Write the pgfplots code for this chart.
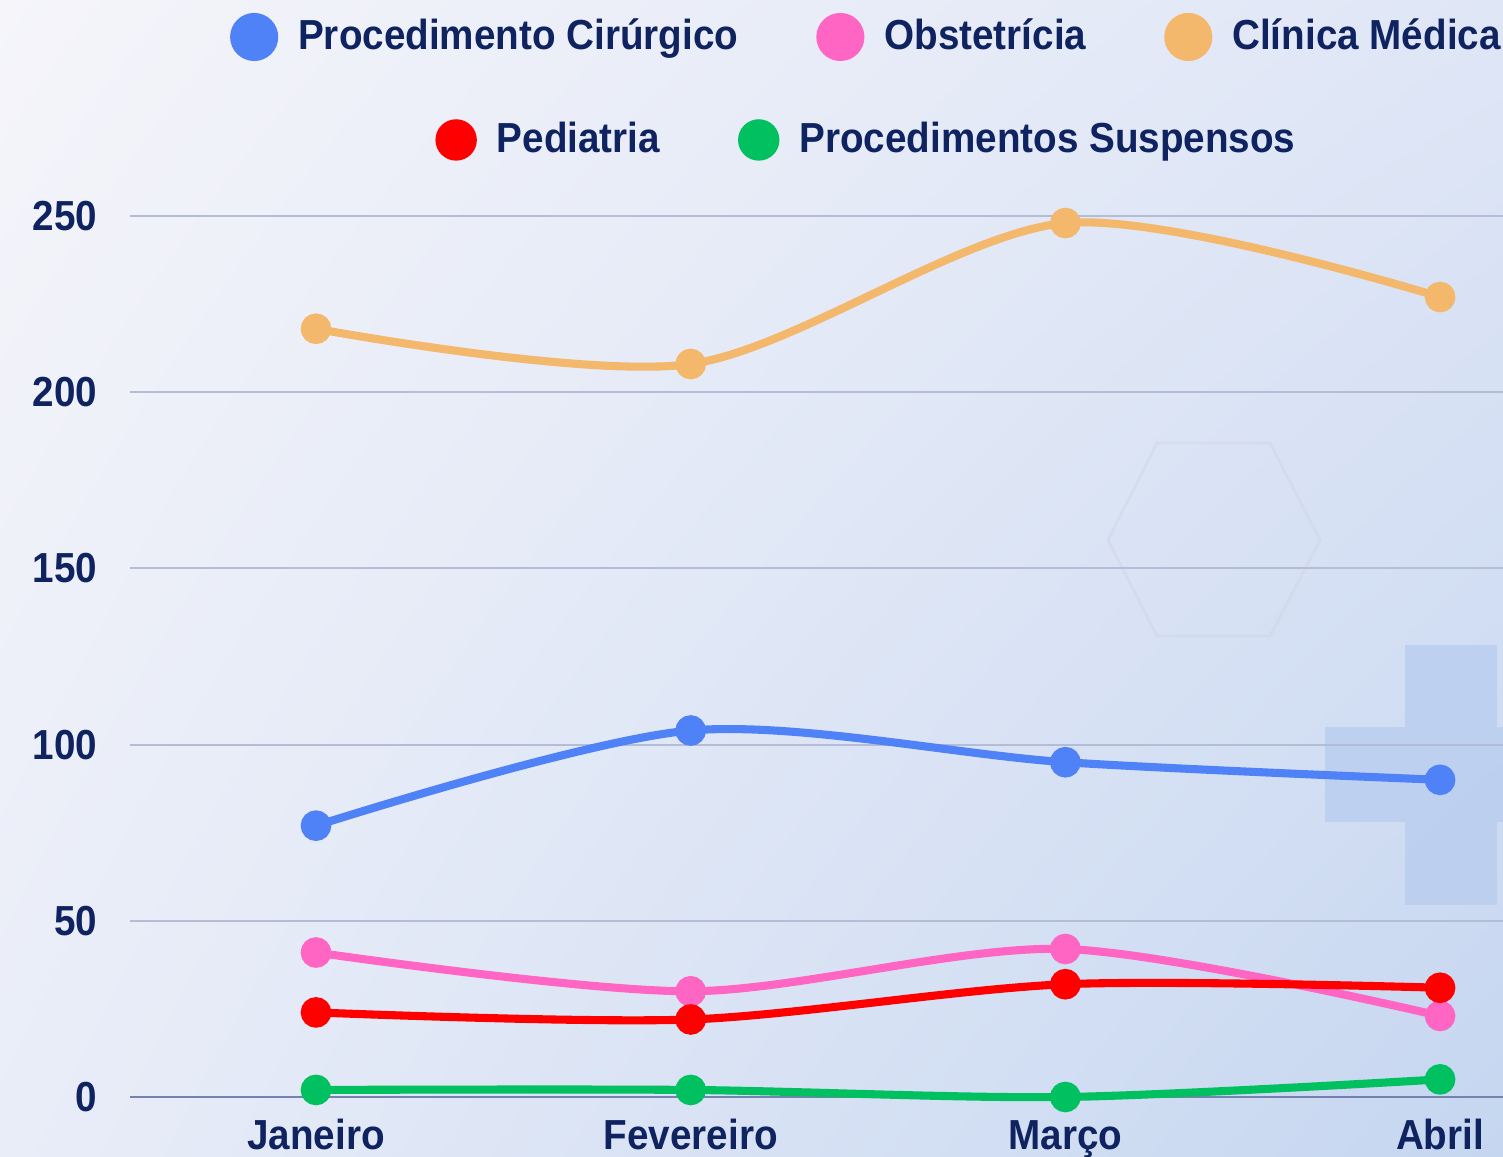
\documentclass[border=0pt]{standalone}
\usepackage{fontspec}
\setmainfont{Liberation Sans}[FakeStretch=0.92]
\usepackage{pgfplots}
\pgfplotsset{compat=1.18}
\usetikzlibrary{shadings}

\definecolor{navy}{HTML}{0F2361}
\definecolor{cirblue}{HTML}{4F82F6}
\definecolor{obspink}{HTML}{FF66C4}
\definecolor{clinorange}{HTML}{F3B86C}
\definecolor{pedred}{HTML}{FF0000}
\definecolor{susgreen}{HTML}{00C060}
\definecolor{gridc}{HTML}{B4BCD8}
\definecolor{zeroc}{HTML}{7482B0}
\definecolor{bgul}{HTML}{F5F5FA}
\definecolor{bgur}{HTML}{DFE6F6}
\definecolor{bgll}{HTML}{E9EDF8}
\definecolor{bglr}{HTML}{C5D6F0}
\definecolor{crossc}{HTML}{B2C8EE}

\newcommand{\chartfont}{\fontsize{11.95pt}{14pt}\selectfont\bfseries}

\pgfplotsset{
  base/.style={
    scale only axis,
    at={(1.30cm,0.60cm)}, anchor=south west,
    width=13.85cm, height=8.81cm,
    xmin=-0.4964, xmax=3.2, ymin=0, ymax=250,
  },
  lgd/.style={
    legend columns=-1,
    legend image code/.code={\fill[##1] (0.2cm,0cm) circle (0.2cm);},
    legend style={draw=none, fill=none, anchor=center,
      font=\chartfont, text=navy, nodes={inner sep=0pt},
      /tikz/every odd column/.append style={column sep=0.2cm},
      /tikz/every even column/.append style={column sep=0.78cm}},
  },
}

\begin{document}
\begin{tikzpicture}
\clip (0,0) rectangle (15.03cm,11.57cm);
\shade[upper left=bgul, upper right=bgur, lower left=bgll, lower right=bglr]
  (0,0) rectangle (15.03cm,11.57cm);
% faint decoration
\fill[crossc, opacity=0.6] (13.25cm,3.35cm) rectangle (15.03cm,4.30cm);
\fill[crossc, opacity=0.6] (14.05cm,2.52cm) rectangle (14.97cm,3.35cm);
\fill[crossc, opacity=0.6] (14.05cm,4.30cm) rectangle (14.97cm,5.12cm);
\draw[gridc!60, line width=0.8pt, opacity=0.6]
  (11.57cm,7.14cm) -- (12.70cm,7.14cm) -- (13.20cm,6.17cm) -- (12.70cm,5.21cm)
  -- (11.57cm,5.21cm) -- (11.08cm,6.17cm) -- cycle;

\begin{axis}[base, lgd,
  legend style={at={(0.531,1.2032)}},
  axis line style={draw=none},
  major tick length=0pt,
  ymajorgrids, grid style={gridc, line width=0.6pt},
  ytick={0,50,100,150,200,250},
  extra y ticks={0}, extra y tick labels={},
  extra y tick style={grid style={zeroc, line width=0.7pt}},
  xtick={0,1,2,3},
  xticklabels={Janeiro,Fevereiro,Março,Abril},
  /pgf/number format/assume math mode=true,
  ticklabel style={font=\chartfont, text=navy},
  yticklabel style={anchor=east, inner sep=0pt, xshift=-0.32cm},
  xticklabel style={anchor=base, inner sep=0pt, yshift=-0.53cm},
  clip=false,
  every axis plot/.append style={smooth, line width=2.3pt, mark=*,
    mark size=3.2pt},
]
\addplot[color=cirblue] coordinates {(0,77) (1,104) (2,95) (3,90)};
\addplot[color=obspink] coordinates {(0,41) (1,30) (2,42) (3,23)};
\addplot[color=clinorange] coordinates {(0,218) (1,208) (2,248) (3,227)};
\addplot[color=pedred] coordinates {(0,24) (1,22) (2,32) (3,31)};
\addplot[color=susgreen] coordinates {(0,2) (1,2) (2,0) (3,5)};
\legend{Procedimento Cirúrgico, Obstetrícia, Clínica Médica}
\end{axis}

\begin{axis}[base, lgd, hide axis,
  legend style={at={(0.531,1.0863)}}]
\addlegendimage{color=pedred}
\addlegendimage{color=susgreen}
\legend{Pediatria, Procedimentos Suspensos}
\end{axis}
\end{tikzpicture}
\end{document}
